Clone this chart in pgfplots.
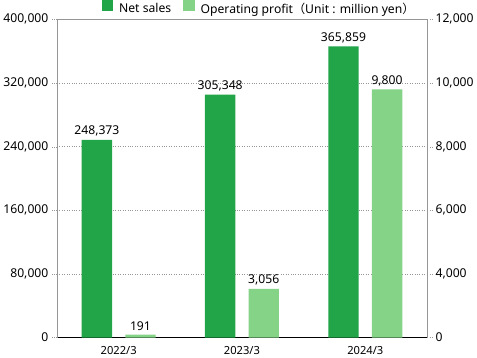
\documentclass[border=0pt]{standalone}
\usepackage{fontspec}
\setmainfont{Noto Sans}
\newfontfamily\cjk{Noto Sans CJK JP}
\usepackage{pgfplots}
\pgfplotsset{compat=1.18}
\definecolor{dkg}{RGB}{33,165,72}
\definecolor{ltg}{RGB}{132,211,135}
\definecolor{axg}{RGB}{150,150,150}
\begin{document}
\begin{tikzpicture}[font=\fontsize{12}{14}\selectfont]
\begin{axis}[
  ybar, bar width=30pt, bar shift=-21.5pt,
  scale only axis, width=365pt, height=314pt,
  xmin=-0.5, xmax=2.5, ymin=0, ymax=400000,
  axis x line*=bottom, axis y line*=left,
  x axis line style={black, line width=0.8pt, -},
  y axis line style={axg, line width=0.8pt, -},
  xtick={0,1,2}, xticklabels={2022/3,2023/3,2024/3},
  x tick label style={font=\fontsize{11}{13}\selectfont},
  major x tick style={draw=none},
  ytick={0,80000,160000,240000,320000,400000},
  scaled y ticks=false,
  /pgf/number format/fixed,
  /pgf/number format/1000 sep={,},
  /pgf/number format/assume math mode=true,
  tick align=outside, major tick length=5pt,
  major y tick style={axg, dotted},
  ymajorgrids, grid style={axg, dotted},
  legend style={at={(0.5,1)}, anchor=south, xshift=17pt, yshift=2pt, draw=none, fill=none,
    legend columns=2, inner sep=0pt,
    /tikz/every odd column/.append style={column sep=4pt},
    /tikz/every even column/.append style={column sep=10pt},
    font=\fontsize{12}{14}\selectfont},
  legend image code/.code={\fill[#1,draw=none] (0pt,-2pt) rectangle (11pt,9pt);},
  nodes near coords={\pgfmathprintnumber[fixed,1000 sep={,},assume math mode=true]{\pgfplotspointmeta}},
  every node near coord/.append style={black, font=\fontsize{12}{14}\selectfont},
]
\addplot[fill=dkg, draw=none]
  coordinates {(0,248373) (1,305348) (2,365859)};
\addlegendentry{Net sales}
\addlegendimage{fill=ltg, draw=none}
\addlegendentry{Operating profit{\cjk （}Unit : million yen{\cjk ）}}
\end{axis}
\begin{axis}[
  ybar, bar width=30pt, bar shift=21.5pt,
  scale only axis, width=365pt, height=314pt,
  xmin=-0.5, xmax=2.5, ymin=0, ymax=12000,
  y coord trafo/.code={\pgfmathparse{ifthenelse(#1<=4000,#1/2,#1-2000)}},
  axis x line*=top, axis y line*=right,
  x axis line style={axg, line width=0.8pt, -},
  y axis line style={axg, line width=0.8pt, -},
  xtick=\empty,
  ytick={0,4000,6000,8000,10000,12000},
  yticklabels={0,{4,000},{6,000},{8,000},{10,000},{12,000}},
  scaled y ticks=false,
  tick align=outside, major tick length=5pt,
  major y tick style={axg, dotted},
  point meta=rawy,
  nodes near coords={\pgfmathprintnumber[fixed,1000 sep={,},assume math mode=true]{\pgfplotspointmeta}},
  every node near coord/.append style={black, font=\fontsize{12}{14}\selectfont},
]
\addplot[fill=ltg, draw=none]
  coordinates {(0,191) (1,3056) (2,9800)};
\end{axis}
\end{tikzpicture}
\end{document}
